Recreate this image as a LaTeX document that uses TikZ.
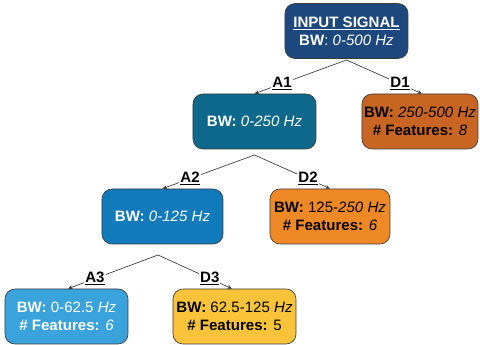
\documentclass[tikz,border=0pt]{standalone}
\usepackage{fontspec}
\setmainfont{Liberation Sans}
\usetikzlibrary{arrows.meta}
\definecolor{cIn}{RGB}{29,72,125}
\definecolor{cAa}{RGB}{14,104,140}
\definecolor{cDa}{RGB}{201,101,34}
\definecolor{cAb}{RGB}{17,122,187}
\definecolor{cDb}{RGB}{239,137,37}
\definecolor{cAc}{RGB}{59,163,220}
\definecolor{cDc}{RGB}{250,195,58}
\definecolor{edgecol}{RGB}{60,60,60}
\tikzset{
  box/.style={draw=edgecol, line width=0.5pt, rounded corners=7.5pt, minimum height=41.25pt, inner sep=0pt, align=center, font=\fontsize{11.3}{13.6}\selectfont},
  lightbox/.style={box, text=white},
  darkbox/.style={box, text=black},
  conn/.style={draw=edgecol, line width=0.5pt, -{Stealth[length=3.5pt,width=3pt]}},
  lbl/.style={fill=white, inner sep=0.8pt, text=black, font=\fontsize{11.3}{13}\selectfont\bfseries}
}
\begin{document}
\begin{tikzpicture}[x=0.75pt,y=-0.75pt]
\useasboundingbox (0,0) rectangle (480,345);
\node[lightbox, fill=cIn, minimum width=92.25pt] (in) at (346.5,31) {\underline{\textbf{INPUT SIGNAL}}\\\textbf{BW}: \textit{0-500 Hz}};
\node[lightbox, fill=cAa, minimum width=92.25pt] (a1) at (254.5,121.5) {\textbf{BW:} \textit{0-250 Hz}};
\node[darkbox, fill=cDa, minimum width=87pt] (d1) at (420,121.5) {\textbf{BW:} \textit{250-500 Hz}\\\textbf{\# Features:} \textit{8}};
\node[lightbox, fill=cAb, minimum width=90.75pt] (a2) at (162.5,216.5) {\textbf{BW:} \textit{0-125 Hz}};
\node[darkbox, fill=cDb, minimum width=90pt] (d2) at (330,216.5) {\textbf{BW:} 125-\textit{250 Hz}\\\textbf{\# Features:} \textit{6}};
\node[lightbox, fill=cAc, minimum width=92.25pt] (a3) at (66.5,316.5) {\textbf{BW:} 0-62.5 \textit{Hz}\\\textbf{\# Features:} \textit{6}};
\node[darkbox, fill=cDc, minimum width=92.25pt] (d3) at (234.5,316.5) {\textbf{BW:} 62.5-125 \textit{Hz}\\\textbf{\# Features:} 5};
\coordinate (f1) at (346.5,60);
\coordinate (f2) at (254.5,155);
\coordinate (f3) at (158,255);
\draw[conn] (f1) -- node[lbl, pos=0.7] {\underline{A1}} (a1.north);
\draw[conn] (f1) -- node[lbl, pos=0.71] {\underline{D1}} ([xshift=1.5pt]d1.north);
\draw[conn] (f2) -- node[lbl, pos=0.7] {\underline{A2}} (a2.north);
\draw[conn] (f2) -- node[lbl, pos=0.71] {\underline{D2}} (d2.north);
\draw[conn] (f3) -- node[lbl, pos=0.7] {\underline{A3}} ([xshift=1.1pt]a3.north);
\draw[conn] (f3) -- node[lbl, pos=0.7] {\underline{D3}} ([xshift=-1.9pt]d3.north);
\end{tikzpicture}
\end{document}
